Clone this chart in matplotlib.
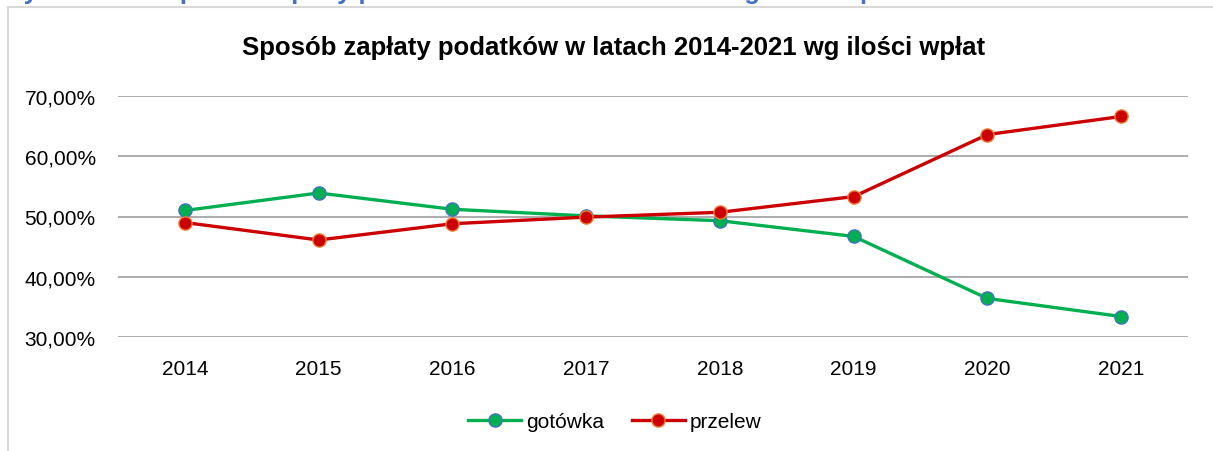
import matplotlib.pyplot as plt
from matplotlib.patches import Rectangle
from matplotlib.ticker import FuncFormatter
from matplotlib.lines import Line2D

years = ["2014", "2015", "2016", "2017", "2018", "2019", "2020", "2021"]
gotowka = [51.0, 53.9, 51.2, 50.1, 49.3, 46.7, 36.4, 33.4]
przelew = [49.0, 46.1, 48.8, 49.9, 50.7, 53.3, 63.6, 66.6]

title = "Sposób zapłaty podatków w latach 2014-2021 wg ilości wpłat"
caption_prefix = "Rysunek 14. "

plt.rcParams["font.family"] = ["Liberation Sans", "DejaVu Sans"]

W, H = 1213, 452
fig = plt.figure(figsize=(W / 100, H / 100), dpi=100)

# outer chart frame (runs past the right and bottom edges)
fig.patches.append(Rectangle((7.5 / W, -0.1), 1.2, (H - 7.5) / H + 0.1,
                             transform=fig.transFigure, fill=False,
                             edgecolor="#d9d9d9", linewidth=1.5))

ax = fig.add_axes([118 / W, (H - 338) / H, 1070 / W, 241 / H])
x = range(len(years))

ax.plot(x, gotowka, color="#00b050", linewidth=2.4, marker="o", markersize=9.5,
        markerfacecolor="#00b050", markeredgecolor="#4472c4", markeredgewidth=1,
        zorder=3)
ax.plot(x, przelew, color="#cc0000", linewidth=2.4, marker="o", markersize=9.5,
        markerfacecolor="#cc0000", markeredgecolor="#ed7d31", markeredgewidth=1,
        zorder=3)

ax.set_xlim(-0.5, len(years) - 0.5)
ax.set_ylim(30, 70)
ax.set_yticks([30, 40, 50, 60, 70])
ax.yaxis.set_major_formatter(FuncFormatter(lambda v, p: f"{v:.2f}%".replace(".", ",")))
ax.set_xticks(list(x))
ax.set_xticklabels(years)
ax.tick_params(length=0, labelsize=15, labelcolor="#000000")
ax.tick_params(axis="x", pad=16)
ax.tick_params(axis="y", pad=16)
ax.grid(axis="y", color="#a6a6a6", linewidth=1.3)
ax.set_axisbelow(True)
for s in ax.spines.values():
    s.set_visible(False)

fig.text(614 / W, 1 - 48 / H, title, ha="center", va="center",
         fontsize=18.5, fontweight="bold", color="#000000")

# figure caption above the chart; only its descenders show below the top edge
renderer = fig.canvas.get_renderer()
probe = fig.text(0, 0, caption_prefix, fontsize=18.5, fontweight="bold")
prefix_w = probe.get_window_extent(renderer).width
probe.remove()
fig.text((163 - prefix_w) / W, 1 + 0.5 / H, caption_prefix + title, ha="left",
         va="baseline", fontsize=18.5, fontweight="bold", color="#4472c4")

handles = [
    Line2D([], [], color="#00b050", linewidth=2.4, marker="o", markersize=9.5,
           markerfacecolor="#00b050", markeredgecolor="#4472c4"),
    Line2D([], [], color="#cc0000", linewidth=2.4, marker="o", markersize=9.5,
           markerfacecolor="#cc0000", markeredgecolor="#ed7d31"),
]
fig.legend(handles, ["gotówka", "przelew"], loc="center",
           bbox_to_anchor=(615 / W, 1 - 423 / H), ncol=2, frameon=False,
           fontsize=15, handlelength=2.55, handletextpad=0.25, columnspacing=1.3)

fig.savefig("out.png", dpi=100)
